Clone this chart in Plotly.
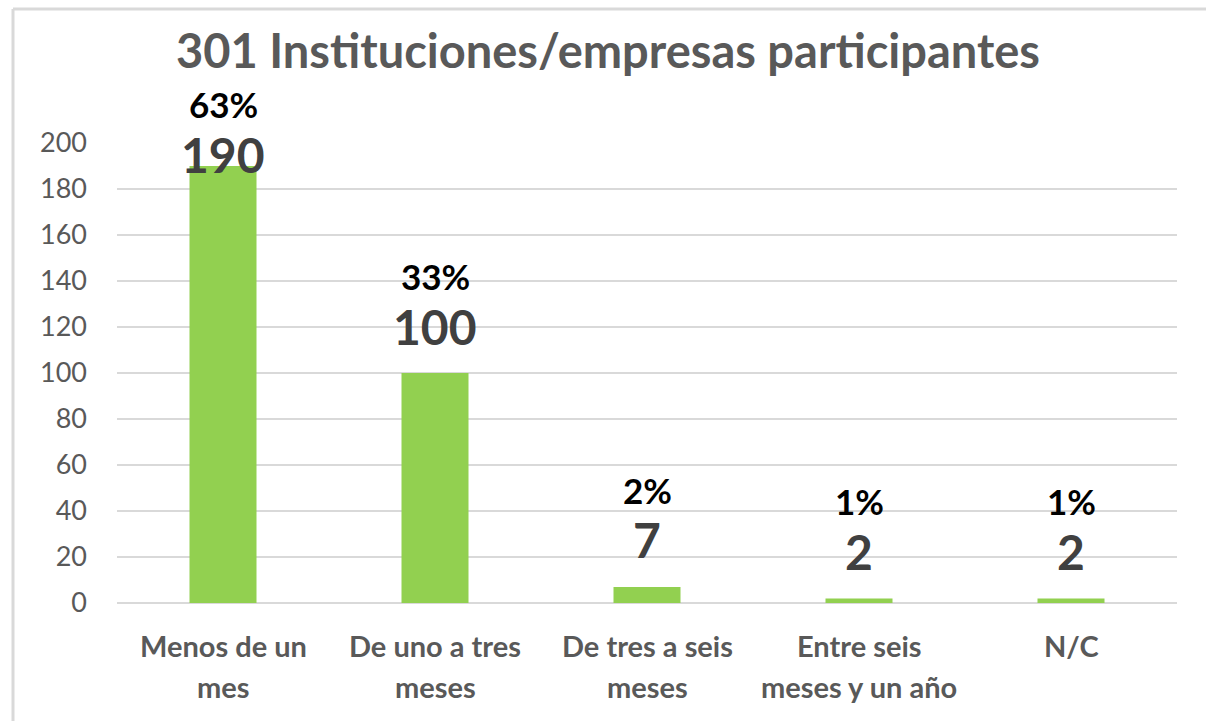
import plotly.graph_objects as go

categories = ["Menos de un<br>mes", "De uno a tres<br>meses", "De tres a seis<br>meses",
              "Entre seis<br>meses y un año", "N/C"]
values = [190, 100, 7, 2, 2]
percent_labels = ["63%", "33%", "2%", "1%", "1%"]
y_ticks = [0, 20, 40, 60, 80, 100, 120, 140, 160, 180, 200]
title_text = "301 Instituciones/empresas participantes"

W, H = 1206, 721
ML, MR, MT, MB = 117, 29, 143, 118
plot_h = H - MT - MB
plot_w = W - ML - MR
y_max = 200
px_per_unit = plot_h / y_max
FONT = "Lato"

fig = go.Figure()
fig.add_trace(go.Bar(x=categories, y=values, marker_color="#92D050",
                     marker_line_width=0, hoverinfo="skip"))

annotations = []
for cat, v, p in zip(categories, values, percent_labels):
    count_shift = min(47, (y_max - v) * px_per_unit - 11)
    annotations.append(dict(x=cat, y=v, xref="x", yref="y", text=f"<b>{v}</b>",
                            showarrow=False, yanchor="middle", yshift=count_shift,
                            font=dict(family=FONT, size=48, color="#404040")))
    annotations.append(dict(x=cat, y=v, xref="x", yref="y", text=f"<b>{p}</b>",
                            showarrow=False, yanchor="middle", yshift=count_shift + 50,
                            font=dict(family=FONT, size=35, color="#000000")))
    for i, line in enumerate(cat.split("<br>")):
        annotations.append(dict(x=cat, y=0, xref="x", yref="paper", text=f"<b>{line}</b>",
                                showarrow=False, yanchor="middle", yshift=-(42 + 41 * i),
                                font=dict(family=FONT, size=29, color="#595959")))

def px_x(px):
    return (px - ML) / plot_w
def px_y(py):
    return (H - MB - py) / plot_h

shapes = [
    dict(type="line", xref="paper", yref="paper", x0=px_x(13), x1=px_x(13),
         y0=px_y(9), y1=px_y(H), line=dict(color="#d9d9d9", width=3)),
    dict(type="line", xref="paper", yref="paper", x0=px_x(13), x1=px_x(W),
         y0=px_y(9), y1=px_y(9), line=dict(color="#d9d9d9", width=3)),
]

fig.update_layout(
    width=W, height=H,
    margin=dict(l=ML, r=MR, t=MT, b=MB, pad=0),
    paper_bgcolor="white", plot_bgcolor="white",
    title=dict(text=f"<b>{title_text}</b>", x=608 / W, xanchor="center",
               y=1 - 52 / H, yanchor="middle", yref="container",
               font=dict(family=FONT, size=47, color="#595959")),
    bargap=0.684,
    showlegend=False,
    hovermode=False,
    annotations=annotations,
    shapes=shapes,
    xaxis=dict(showticklabels=False, showgrid=False, zeroline=False, showline=False,
               ticks=""),
    yaxis=dict(range=[0, y_max], tickvals=y_ticks, showgrid=True, gridcolor="#d9d9d9",
               gridwidth=2, zeroline=True, zerolinecolor="#d9d9d9", zerolinewidth=2,
               showline=False, ticks="", ticklabelstandoff=29,
               tickfont=dict(family=FONT, size=27, color="#595959")),
)

fig.write_html(
    "out.html",
    config={"displayModeBar": False, "staticPlot": True},
    post_script=(
        "document.documentElement.style.margin='0';"
        "document.documentElement.style.overflow='hidden';"
        "document.body.style.margin='0';"
        "document.body.style.overflow='hidden';"
    ),
)
